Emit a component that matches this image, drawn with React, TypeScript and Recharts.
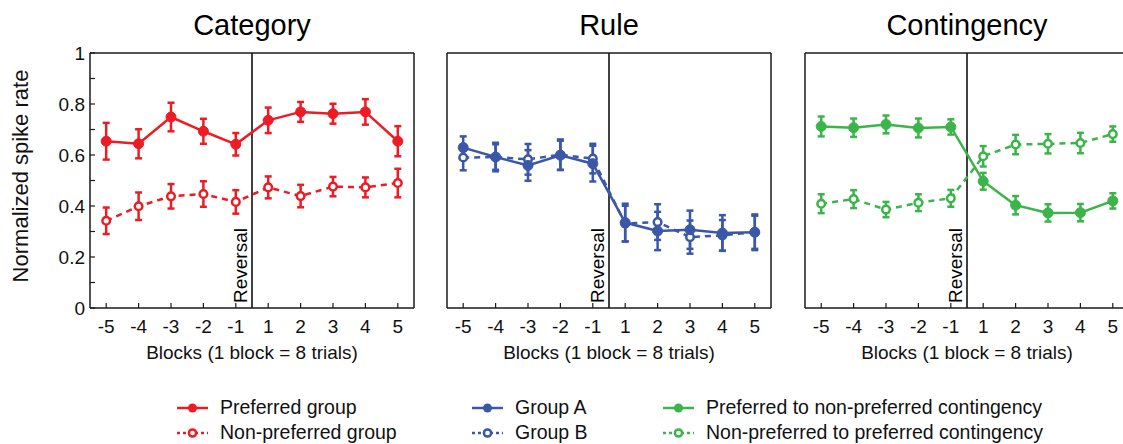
import React from 'react';
import { LineChart, Line, XAxis, YAxis, ErrorBar, ReferenceLine } from 'recharts';

// block labels around the reversal (index 0..9 on the axis)
const blockLabels = ['-5', '-4', '-3', '-2', '-1', '1', '2', '3', '4', '5'];
const blockIndex = [0, 1, 2, 3, 4, 5, 6, 7, 8, 9];
const yTicks = [0, 0.1, 0.2, 0.3, 0.4, 0.5, 0.6, 0.7, 0.8, 0.9, 1];

// Category panel
const categoryPreferred = [0.654, 0.644, 0.749, 0.693, 0.642, 0.736, 0.769, 0.762, 0.769, 0.654];
const categoryPreferredErr = [0.072, 0.057, 0.056, 0.049, 0.044, 0.05, 0.039, 0.039, 0.05, 0.059];
const categoryNonPreferred = [0.342, 0.399, 0.438, 0.447, 0.416, 0.473, 0.439, 0.476, 0.473, 0.49];
const categoryNonPreferredErr = [0.052, 0.054, 0.048, 0.05, 0.046, 0.043, 0.044, 0.038, 0.039, 0.056];

// Rule panel
const ruleGroupA = [0.629, 0.592, 0.559, 0.599, 0.566, 0.335, 0.302, 0.307, 0.294, 0.297];
const ruleGroupAErr = [0.044, 0.056, 0.06, 0.057, 0.07, 0.074, 0.075, 0.075, 0.07, 0.07];
const ruleGroupB = [0.59, 0.592, 0.583, 0.601, 0.586, 0.331, 0.337, 0.278, 0.285, 0.297];
const ruleGroupBErr = [0.05, 0.05, 0.06, 0.06, 0.058, 0.07, 0.07, 0.065, 0.06, 0.065];

// Contingency panel
const contPrefToNon = [0.712, 0.707, 0.72, 0.706, 0.71, 0.497, 0.403, 0.373, 0.374, 0.42];
const contPrefToNonErr = [0.039, 0.036, 0.035, 0.037, 0.03, 0.033, 0.036, 0.034, 0.034, 0.03];
const contNonToPref = [0.409, 0.427, 0.386, 0.413, 0.43, 0.595, 0.641, 0.644, 0.647, 0.682];
const contNonToPrefErr = [0.037, 0.035, 0.03, 0.033, 0.033, 0.04, 0.038, 0.038, 0.04, 0.03];

const RED = '#ed1c24';
const BLUE = '#3b57a7';
const GREEN = '#3bb54a';
const AXIS = '#1a1a1a';
const TEXT = '#111';
const FONT = '"Liberation Sans", Arial, Helvetica, sans-serif';

const legendItems = [
  { label: 'Preferred group', color: RED, dashed: false, x: 177, row: 0 },
  { label: 'Non-preferred group', color: RED, dashed: true, x: 177, row: 1 },
  { label: 'Group A', color: BLUE, dashed: false, x: 472, row: 0 },
  { label: 'Group B', color: BLUE, dashed: true, x: 472, row: 1 },
  { label: 'Preferred to non-preferred contingency', color: GREEN, dashed: false, x: 663, row: 0 },
  { label: 'Non-preferred to preferred contingency', color: GREEN, dashed: true, x: 663, row: 1 },
];

function buildRows(solid: number[], solidErr: number[], dashed: number[], dashedErr: number[]) {
  return blockIndex.map((i) => ({
    x: i,
    solid: solid[i],
    solidErr: solidErr[i],
    dashed: dashed[i],
    dashedErr: dashedErr[i],
  }));
}

const yTickFormat = (v: number) => (Math.round(v * 10) % 2 === 0 ? String(v) : '');

const YLabel = () => (
  <text x={28} y={176} transform="rotate(-90 28 176)" textAnchor="middle" fontSize={22} fill={TEXT}>
    Normalized spike rate
  </text>
);

const ReversalLabel = (props: any) => {
  const vb = props.viewBox || { x: 0, y: 0, height: 0 };
  const x = vb.x - 5;
  const y = vb.y + vb.height - 5;
  return (
    <text x={x} y={y} transform={`rotate(-90 ${x} ${y})`} fontSize={19} fill="#000">
      Reversal
    </text>
  );
};

interface PanelProps {
  title: string;
  color: string;
  rows: any[];
  left: number;
  showYLabels: boolean;
}

function Panel({ title, color, rows, left, showYLabels }: PanelProps) {
  const width = showYLabels ? 420 : 336;
  const marginLeft = showYLabels ? 0 : 5;
  const axisLine = { stroke: AXIS, strokeWidth: 1.5 };
  const tickLine = { stroke: AXIS, strokeWidth: 1.2 };

  return (
    <div style={{ position: 'absolute', left, top: 0 }}>
      <LineChart
        width={width}
        height={380}
        data={rows}
        margin={{ top: 52, right: 5, bottom: 12, left: marginLeft }}
      >
        <XAxis
          xAxisId="bottom"
          dataKey="x"
          type="number"
          domain={[-0.5, 9.5]}
          ticks={blockIndex}
          tickFormatter={(v: number) => blockLabels[v]}
          height={60}
          tickSize={-5}
          tickMargin={17}
          tick={{ fontSize: 19, fill: TEXT }}
          axisLine={axisLine}
          tickLine={tickLine}
          label={{
            value: 'Blocks (1 block = 8 trials)',
            position: 'insideBottom',
            offset: 9,
            fontSize: 19,
            fill: TEXT,
          }}
        />
        <XAxis
          xAxisId="top"
          orientation="top"
          dataKey="x"
          type="number"
          domain={[-0.5, 9.5]}
          ticks={blockIndex}
          height={1}
          tickSize={-5}
          tick={false}
          axisLine={axisLine}
          tickLine={tickLine}
          label={{ value: title, position: 'top', offset: 17, fontSize: 29, fill: '#000' }}
        />
        <YAxis
          yAxisId="left"
          type="number"
          domain={[0, 1]}
          ticks={yTicks}
          tickFormatter={yTickFormat}
          width={showYLabels ? 90 : 1}
          tickSize={-5}
          tickMargin={10}
          tick={showYLabels ? { fontSize: 19, fill: TEXT } : false}
          axisLine={axisLine}
          tickLine={tickLine}
          label={showYLabels ? <YLabel /> : undefined}
        />
        <YAxis
          yAxisId="right"
          orientation="right"
          type="number"
          domain={[0, 1]}
          ticks={yTicks}
          width={1}
          tickSize={-5}
          tick={false}
          axisLine={axisLine}
          tickLine={tickLine}
        />
        <ReferenceLine
          xAxisId="bottom"
          yAxisId="left"
          x={4.5}
          stroke="#000"
          strokeWidth={1.5}
          label={(p: any) => <ReversalLabel {...p} />}
        />
        <Line
          xAxisId="bottom"
          yAxisId="left"
          dataKey="dashed"
          stroke={color}
          strokeWidth={2.5}
          strokeDasharray="6 5"
          dot={{ r: 3.8, fill: '#fff', stroke: color, strokeWidth: 2.5, strokeDasharray: 'none' }}
          isAnimationActive={false}
        >
          <ErrorBar
            dataKey="dashedErr"
            direction="y"
            width={3.5}
            stroke={color}
            strokeWidth={2.5}
            isAnimationActive={false}
          />
        </Line>
        <Line
          xAxisId="bottom"
          yAxisId="left"
          dataKey="solid"
          stroke={color}
          strokeWidth={2.5}
          dot={{ r: 5, fill: color, stroke: color, strokeWidth: 1 }}
          isAnimationActive={false}
        >
          <ErrorBar
            dataKey="solidErr"
            direction="y"
            width={3.5}
            stroke={color}
            strokeWidth={2.5}
            isAnimationActive={false}
          />
        </Line>
      </LineChart>
    </div>
  );
}

function LegendBlock() {
  return (
    <svg width={1123} height={444} style={{ position: 'absolute', left: 0, top: 0, pointerEvents: 'none' }}>
      {legendItems.map((item) => {
        const cy = item.row === 0 ? 408 : 433;
        const x1 = item.x;
        const x2 = item.x + 31;
        const cx = (x1 + x2) / 2;
        return (
          <g key={item.label}>
            <line
              x1={x1}
              x2={x2}
              y1={cy}
              y2={cy}
              stroke={item.color}
              strokeWidth={2.5}
              strokeDasharray={item.dashed ? '3 3' : undefined}
            />
            {item.dashed ? (
              <circle cx={cx} cy={cy} r={3.6} fill="#fff" stroke={item.color} strokeWidth={2.5} />
            ) : (
              <circle cx={cx} cy={cy} r={4.5} fill={item.color} />
            )}
            <text x={x2 + 12} y={cy + 6} fontSize={19.5} fill={TEXT}>
              {item.label}
            </text>
          </g>
        );
      })}
    </svg>
  );
}

export default function App() {
  const categoryRows = buildRows(categoryPreferred, categoryPreferredErr, categoryNonPreferred, categoryNonPreferredErr);
  const ruleRows = buildRows(ruleGroupA, ruleGroupAErr, ruleGroupB, ruleGroupBErr);
  const contRows = buildRows(contPrefToNon, contPrefToNonErr, contNonToPref, contNonToPrefErr);

  return (
    <div
      style={{
        position: 'absolute',
        left: 0,
        top: 0,
        width: 1123,
        height: 444,
        overflow: 'hidden',
        background: '#fff',
        fontFamily: FONT,
      }}
    >
      <Panel title="Category" color={RED} rows={categoryRows} left={0} showYLabels />
      <Panel title="Rule" color={BLUE} rows={ruleRows} left={441} showYLabels={false} />
      <Panel title="Contingency" color={GREEN} rows={contRows} left={799} showYLabels={false} />
      <LegendBlock />
    </div>
  );
}
